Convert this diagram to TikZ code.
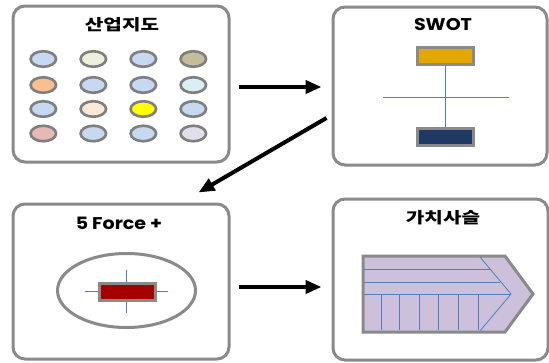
\documentclass[tikz,border=0pt]{standalone}
\usepackage{fontspec}
\usetikzlibrary{shapes.geometric,arrows.meta,calc}
\newfontfamily\krfont{Noto Sans CJK KR}
\newfontfamily\latfont{Poppins}

\definecolor{frame}{HTML}{8A8A8A}
\definecolor{dotrim}{HTML}{7F7F7F}
\definecolor{thinblue}{HTML}{4F81BD}
\definecolor{cLB}{HTML}{C6D9F1}
\definecolor{cGR}{HTML}{EBF1DE}
\definecolor{cOL}{HTML}{C4BD97}
\definecolor{cOR}{HTML}{FABF8F}
\definecolor{cCY}{HTML}{DBEEF3}
\definecolor{cPE}{HTML}{FDE9D9}
\definecolor{cYE}{HTML}{FFFF00}
\definecolor{cPK}{HTML}{E6B9B8}
\definecolor{cLV}{HTML}{E0E0EA}
\definecolor{gold}{HTML}{E3A800}
\definecolor{navy}{HTML}{1F3864}
\definecolor{darkred}{HTML}{A50000}
\definecolor{lavender}{HTML}{CCC0DA}

\tikzset{
  panel/.style={draw=frame, line width=3pt, rounded corners=12pt, fill=white, inner sep=0pt},
  dot/.style={ellipse, draw=dotrim, line width=2.6pt, minimum width=25.5pt, minimum height=15.5pt, inner sep=0pt},
  bar/.style={draw=frame, line width=3pt, minimum width=56pt, minimum height=17pt, inner sep=0pt},
  krtitle/.style={font=\krfont\bfseries\fontsize{15.5}{16}\selectfont, xscale=1.3},
  lattitle/.style={font=\latfont\bfseries\fontsize{17}{18}\selectfont, xscale=1.12},
  fineline/.style={draw=thinblue, line width=0.8pt},
  flow/.style={line width=4pt, -{Triangle[length=16pt,width=13pt]}},
}

\begin{document}
\begin{tikzpicture}[x=1pt,y=-1pt]
\useasboundingbox (0,0) rectangle (549,362);

% the four panels
\node[panel, minimum width=216pt, minimum height=156pt] (p1) at (121,84) {};
\node[panel, minimum width=214pt, minimum height=158pt] (p2) at (440,86) {};
\node[panel, minimum width=216pt, minimum height=155pt] (p3) at (121,281.5) {};
\node[panel, minimum width=215pt, minimum height=161pt] (p4) at (440.5,279.5) {};

% titles
\node[krtitle] (t1) at (122,25) {산업지도};
\node[lattitle] (t2) at (443,25) {SWOT};
\node[lattitle] (t3) at (119,223) {5 Force +};
\node[krtitle] (t4) at (443,218) {가치사슬};

% industry map: 4x4 grid of dots
\foreach \c [count=\i from 0] in {cLB,cGR,cLB,cOL} \node[dot, fill=\c] (a\i) at (43.3+50*\i,59) {};
\foreach \c [count=\i from 0] in {cOR,cLB,cLB,cCY} \node[dot, fill=\c] (b\i) at (43.3+50*\i,85) {};
\foreach \c [count=\i from 0] in {cLB,cPE,cYE,cLB} \node[dot, fill=\c] (c\i) at (43.3+50*\i,109) {};
\foreach \c [count=\i from 0] in {cPK,cLB,cLB,cLV} \node[dot, fill=\c] (d\i) at (43.3+50*\i,133.5) {};

% SWOT
\coordinate (hl) at (383,97);
\coordinate (hr) at (509,97);
\node[bar, fill=gold] (s1) at (445.5,56) {};
\node[bar, fill=navy] (s2) at (445.5,137) {};
\draw[fineline] (hl) -- (hr);
\draw[fineline] (s1.south) -- (s2.north);

% five forces
\node[ellipse, draw=frame, line width=3pt, fill=white, minimum width=138pt, minimum height=74pt] (e) at (126.5,290.5) {};
\coordinate (vt) at (126,270);
\coordinate (vb) at (126,313);
\coordinate (hw) at (85,291);
\coordinate (he) at (168,291);
\draw[fineline] (vt) -- (vb);
\draw[fineline] (hw) -- (he);
\node[bar, fill=darkred] (r) at (127.5,291.5) {};

% value chain chevron
\draw[frame, line width=3pt, fill=lavender, line join=miter]
  (363,256) -- (505,256) -- (533,294) -- (505,332) -- (363,332) -- cycle;
\draw[fineline] (364,269) -- (490,269);
\draw[fineline] (364,282) -- (500,282);
\draw[fineline] (364,294) -- (511,294);
\draw[fineline] (480,257) -- (511,294) -- (480,331);
\foreach \x in {381,399,419,438,458,478} \draw[fineline] (\x,294) -- (\x,330);

% flow arrows
\draw[flow] ($(p1.east)+(8,3)$) -- ($(p2.west)+(-10,1)$);
\draw[flow] ($(p2.west)+(-5,32)$) -- ($(p3.north east)+(-32,-10)$);
\draw[flow] ($(p3.east)+(8,5.5)$) -- ($(p4.west)+(-10,7.5)$);
\end{tikzpicture}
\end{document}
